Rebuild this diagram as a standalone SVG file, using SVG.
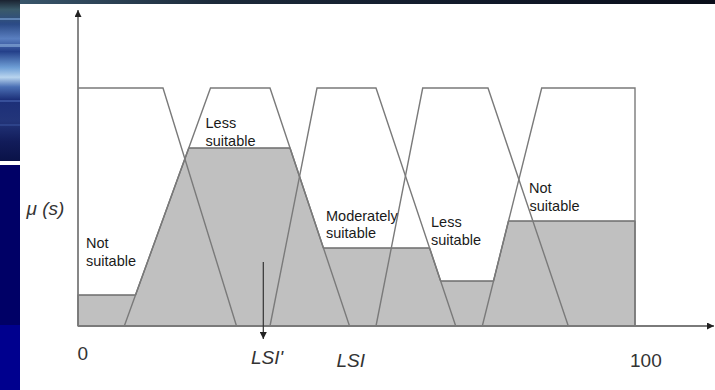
<svg xmlns="http://www.w3.org/2000/svg" width="715" height="390" viewBox="0 0 715 390">
  <defs>
    <linearGradient id="photo" x1="0" y1="0" x2="0" y2="1">
      <stop offset="0" stop-color="#1a2230"/>
      <stop offset="0.06" stop-color="#3a5a6a"/>
      <stop offset="0.15" stop-color="#2b4a86"/>
      <stop offset="0.24" stop-color="#5a7fc0"/>
      <stop offset="0.32" stop-color="#24408a"/>
      <stop offset="0.42" stop-color="#6f9fd6"/>
      <stop offset="0.48" stop-color="#b8d4ee"/>
      <stop offset="0.54" stop-color="#4a6fb4"/>
      <stop offset="0.62" stop-color="#1c2f78"/>
      <stop offset="0.75" stop-color="#23357a"/>
      <stop offset="0.88" stop-color="#121c5a"/>
      <stop offset="1" stop-color="#0a1248"/>
    </linearGradient>
    <linearGradient id="topband" x1="0" y1="0" x2="1" y2="0">
      <stop offset="0" stop-color="#3c5a70"/>
      <stop offset="0.3" stop-color="#1c2a3a"/>
      <stop offset="0.7" stop-color="#101828"/>
      <stop offset="1" stop-color="#0a0e1a"/>
    </linearGradient>
    <marker id="arrowhead" viewBox="0 0 8 8" refX="8" refY="4" markerWidth="7" markerHeight="7" markerUnits="userSpaceOnUse" orient="auto">
      <path d="M0,0 L8,4 L0,8 Z" fill="#222"/>
    </marker>
    <style>
      .mf { fill: none; stroke: #7a7a7a; stroke-width: 1.4; }
      .axis { fill: none; stroke: #7a7a7a; stroke-width: 1.8; }
      .agg { fill: #c0c0c0; stroke: #6c6c6c; stroke-width: 1.4; stroke-linejoin: round; }
      .lbl { font-family: "Liberation Sans", Arial, sans-serif; font-size: 14.5px; fill: #1a1a1a; }
      .ax { font-family: "Liberation Sans", Arial, sans-serif; font-size: 19px; fill: #333; }
      .it { font-style: italic; }
    </style>
  </defs>

  <!-- slide background -->
  <g id="background">
    <rect x="0" y="0" width="715" height="390" fill="#ffffff"/>
    <rect x="0" y="0" width="715" height="4" fill="url(#topband)"/>
    <rect x="0" y="0" width="20" height="161" fill="url(#photo)"/>
    <rect x="0" y="18" width="20" height="2" fill="#7fa6d8" opacity="0.6"/>
    <rect x="0" y="44" width="20" height="3" fill="#9cc0e8" opacity="0.5"/>
    <rect x="0" y="100" width="20" height="2" fill="#4a66b0" opacity="0.6"/>
    <rect x="0" y="124" width="20" height="2" fill="#3b55a0" opacity="0.5"/>
    <rect x="0" y="161" width="20" height="4" fill="#ffffff"/>
    <rect x="0" y="165" width="20" height="160" fill="#000066"/>
    <rect x="0" y="325" width="20" height="65" fill="#00008e"/>
  </g>

  <!-- aggregated (clipped) output area -->
  <g id="aggregate">
    <polygon class="agg" points="78,326 78,295 135.5,295 188.8,148 290,148 323.4,248 429.6,248 440.6,281 493.5,281 508.5,221 635,221 635,326"/>
  </g>

  <!-- membership functions -->
  <g id="mf-not-suitable-low">
    <polyline class="mf" points="78,88 163,88 236.5,326"/>
  </g>
  <g id="mf-less-suitable-low">
    <polyline class="mf" points="124.3,326 210.5,88 270,88 349.5,326"/>
  </g>
  <g id="mf-moderately-suitable">
    <polyline class="mf" points="270,326 317,88 376,88 455.7,326"/>
  </g>
  <g id="mf-less-suitable-high">
    <polyline class="mf" points="376,326 422.7,88 488,88 568.3,326"/>
  </g>
  <g id="mf-not-suitable-high">
    <polyline class="mf" points="482.3,326 541.7,88 635,88 635,326"/>
  </g>

  <!-- axes and the LSI' pointer -->
  <g id="connectors">
    <line class="axis" x1="78" y1="326" x2="78" y2="10" marker-end="url(#arrowhead)"/>
    <line class="axis" x1="78" y1="326" x2="714" y2="326" marker-end="url(#arrowhead)"/>
    <line x1="263.3" y1="262" x2="263.3" y2="339" stroke="#333" stroke-width="1.2" marker-end="url(#arrowhead)"/>
  </g>

  <!-- labels -->
  <g id="labels">
    <text class="lbl" x="86" y="247.5">Not</text>
    <text class="lbl" x="86" y="266">suitable</text>
    <text class="lbl" x="205.5" y="128.3">Less</text>
    <text class="lbl" x="205.5" y="145.8">suitable</text>
    <text class="lbl" x="326" y="221">Moderately</text>
    <text class="lbl" x="326" y="237.7">suitable</text>
    <text class="lbl" x="431" y="226.7">Less</text>
    <text class="lbl" x="431" y="245">suitable</text>
    <text class="lbl" x="529" y="193.3">Not</text>
    <text class="lbl" x="529.5" y="210.7">suitable</text>
    <text class="ax it" x="26.5" y="215" font-size="15px">μ (s)</text>
    <text class="ax" x="77.5" y="360">0</text>
    <text class="ax" x="630" y="367.3">100</text>
    <text class="ax it" x="251" y="364">LSI'</text>
    <text class="ax it" x="336.5" y="367.3">LSI</text>
  </g>
</svg>
